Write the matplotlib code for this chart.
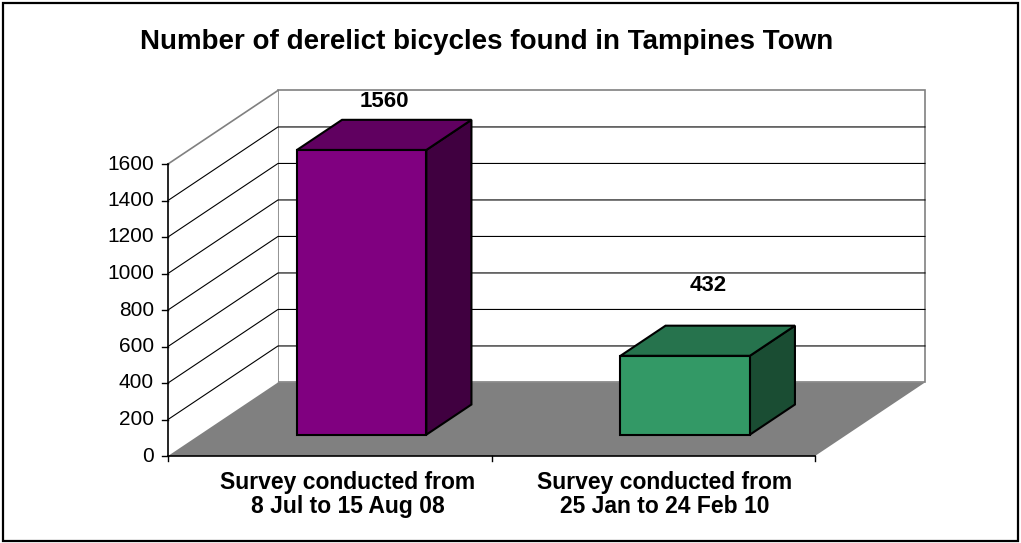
import numpy as np
import matplotlib.pyplot as plt
from matplotlib.patches import Polygon, Rectangle

# data
categories = ['Survey conducted from\n8 Jul to 15 Aug 08',
              'Survey conducted from\n25 Jan to 24 Feb 10']
counts = [1560, 432]
bar_colors = ['#800080', '#339966']
y_ticks = [0, 200, 400, 600, 800, 1000, 1200, 1400, 1600]
title = 'Number of derelict bicycles found in Tampines Town'

# fake 3d geometry (front plane in data units, depth as offset)
W, H = 1021, 543
px_x = 323.5           # pixels per category
px_y = 292 / 1600      # pixels per count
x0_px, y0_px = 168, 456
ddx, ddy = 0.34, 403   # full depth offset (data units)
d_front, d_back = 0.29, 0.70
bar_w = 0.40
ymax = 1600

plt.rcParams['font.family'] = ['Liberation Sans', 'DejaVu Sans']
fig = plt.figure(figsize=(W / 100, H / 100), dpi=100)
ax = fig.add_axes([0, 0, 1, 1])
ax.set_xlim(-x0_px / px_x, (W - x0_px) / px_x)
ax.set_ylim(-(H - y0_px) / px_y, y0_px / px_y)
ax.axis('off')

grid_c = 'black'
wall_c = '#808080'

# back wall
ax.add_patch(Polygon([(ddx, ddy), (ddx, ymax + ddy), (2 + ddx, ymax + ddy), (2 + ddx, ddy)],
                     closed=True, facecolor='white', edgecolor=wall_c, lw=1.2, zorder=1))
# left wall
ax.add_patch(Polygon([(0, 0), (0, ymax), (ddx, ymax + ddy), (ddx, ddy)],
                     closed=True, facecolor='white', edgecolor='none', zorder=1))
ax.plot([0, ddx], [ymax, ymax + ddy], color=wall_c, lw=1.2, zorder=2)

for t in y_ticks[1:-1]:
    ax.plot([0, ddx, 2 + ddx], [t, t + ddy, t + ddy], color=grid_c, lw=0.8, zorder=2)

# floor
ax.add_patch(Polygon([(0, 0), (ddx, ddy), (2 + ddx, ddy), (2, 0)],
                     closed=True, facecolor='#808080', edgecolor='none', zorder=3))
ax.plot([0, 2], [0, 0], color='black', lw=1.2, zorder=4)
ax.plot([0, 0], [0, ymax], color='black', lw=1.2, zorder=4)

# axis ticks
tick_len_x = 6 / px_x
tick_len_y = 5 / px_y
for t in y_ticks:
    ax.plot([-tick_len_x, 0], [t, t], color='black', lw=1, zorder=4)
    ax.text(-14 / px_x, t, str(t), ha='right', va='center', fontsize=15)
for i in range(len(categories) + 1):
    ax.plot([i, i], [0, -tick_len_y], color='black', lw=1, zorder=4)


def shade(hexc, f):
    r, g, b = [int(hexc[k:k + 2], 16) / 255 for k in (1, 3, 5)]
    return (r * f, g * f, b * f)


label_lift = [185, 305]
label_shift = [0.055, 0.035]
for i, (v, c) in enumerate(zip(counts, bar_colors)):
    xl = i + 0.5 - bar_w / 2
    xr = i + 0.5 + bar_w / 2
    fx, fy = d_front * ddx, d_front * ddy
    bx, by = d_back * ddx, d_back * ddy
    front = [(xl + fx, fy), (xr + fx, fy), (xr + fx, v + fy), (xl + fx, v + fy)]
    top = [(xl + fx, v + fy), (xr + fx, v + fy), (xr + bx, v + by), (xl + bx, v + by)]
    side = [(xr + fx, fy), (xr + bx, by), (xr + bx, v + by), (xr + fx, v + fy)]
    kw = dict(closed=True, edgecolor='black', lw=1.5, zorder=5, joinstyle='miter')
    ax.add_patch(Polygon(side, facecolor=shade(c, 0.5), **kw))
    ax.add_patch(Polygon(top, facecolor=shade(c, 0.75), **kw))
    ax.add_patch(Polygon(front, facecolor=c, **kw))
    ax.text(i + 0.5 + (fx + bx) / 2, v + (fy + by) / 2 + label_lift[i], str(v),
            ha='center', va='center', fontsize=16, fontweight='bold', zorder=6)
    ax.text(i + 0.5 + label_shift[i], -15 / px_y, categories[i], ha='center', va='top',
            fontsize=16.5, fontweight='bold', linespacing=1.05)

fig.text(487 / W, 1 - 42 / H, title, ha='center', va='center', fontsize=20, fontweight='bold')

fig.add_artist(Rectangle((3 / W, 2 / H), (W - 6) / W, (H - 5) / H, transform=fig.transFigure,
                         fill=False, edgecolor='black', lw=1.6))

fig.savefig('out.png', dpi=100)
